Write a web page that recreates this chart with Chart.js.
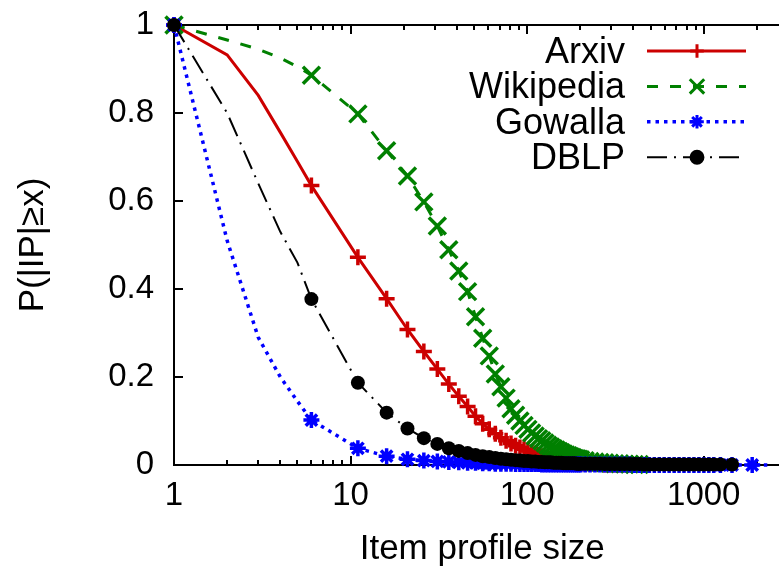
<!DOCTYPE html>
<html>
<head>
<meta charset="utf-8">
<script src="https://cdn.jsdelivr.net/npm/chart.js@4.4.1/dist/chart.umd.min.js"></script>
<style>
html, body { margin: 0; padding: 0; background: #fff; overflow: hidden; }
#wrap { width: 900px; height: 574px; }
</style>
</head>
<body>
<div id="wrap"><canvas id="ccdf" width="806" height="574"></canvas></div>
<script>
// profile sizes (x) shared by every series
const sizes = [1, 2, 3, 4, 5,
  6, 11, 16, 21, 26, 31, 36, 41, 46, 51,
  56, 61, 66, 71, 76, 81, 86, 91, 96, 101,
  106, 111, 116, 121, 126, 131, 136, 141, 146, 151,
  156, 161, 166, 171, 176, 181, 186, 191, 196, 201,
  213, 227, 242, 258, 275, 293, 313, 334, 356, 380,
  405, 432, 461, 492, 525, 560, 597, 637, 680, 725,
  773, 825, 880, 939, 1002, 1069, 1140, 1243, 1446, 1881,
  2400];

const arxiv = [1, 0.932, 0.84, 0.756, 0.69,
  0.635, 0.472, 0.378, 0.308, 0.258, 0.218, 0.184, 0.156, 0.133, 0.111,
  0.094, 0.081, 0.071, 0.062, 0.055, 0.049, 0.044, 0.04, 0.036, 0.032,
  0.029, 0.026, 0.023, 0.02, 0.017, 0.015, 0.013, 0.011, 0.01, 0.009,
  0.008, 0.007, 0.006, 0.006, 0.005, 0.005, 0.004, 0.004, 0.003, 0.003,
  0.003, 0.002, 0.002, 0.002, 0.001, 0.001, 0.001, 0.001, 0.001, 0.001];

const wikipedia = [1, 0.966, 0.945, 0.925, 0.905,
  0.886, 0.798, 0.714, 0.657, 0.598, 0.543, 0.489, 0.441, 0.394, 0.337,
  0.288, 0.248, 0.207, 0.178, 0.152, 0.128, 0.113, 0.1, 0.09, 0.081,
  0.073, 0.066, 0.06, 0.055, 0.05, 0.045, 0.041, 0.037, 0.034, 0.031,
  0.028, 0.025, 0.023, 0.021, 0.019, 0.017, 0.015, 0.014, 0.013, 0.012,
  0.01, 0.008, 0.007, 0.006, 0.005, 0.004, 0.003, 0.003, 0.002, 0.002, 0.001, 0.001];

const gowalla = [1, 0.51, 0.29, 0.2, 0.145,
  0.102, 0.038, 0.02, 0.013, 0.01, 0.008, 0.007, 0.006, 0.005, 0.005,
  0.004, 0.004, 0.003, 0.003, 0.003, 0.003, 0.002, 0.002, 0.002, 0.002,
  0.002, 0.002, 0.002, 0.001, 0.001, 0.001, 0.001, 0.001, 0.001, 0.001,
  0.001, 0.001, 0.001, 0.001, 0.001, 0.001, 0.001, 0.001, 0.001, 0.001,
  0.001, 0.001, 0.001, 0.001, 0.001, 0.001, 0.001, 0.001, 0.001, 0.001,
  0, 0, 0, 0, 0, 0, 0, 0, 0, 0,
  0, 0, 0, 0, 0, 0, 0, 0, 0, 0,
  0];

const dblp = [1, 0.8, 0.64, 0.53, 0.46,
  0.377, 0.187, 0.119, 0.083, 0.061, 0.048, 0.038, 0.032, 0.027, 0.023,
  0.02, 0.018, 0.016, 0.014, 0.013, 0.012, 0.011, 0.01, 0.009, 0.009,
  0.008, 0.008, 0.007, 0.007, 0.006, 0.006, 0.006, 0.005, 0.005, 0.005,
  0.005, 0.004, 0.004, 0.004, 0.004, 0.004, 0.004, 0.003, 0.003, 0.003,
  0.003, 0.003, 0.003, 0.003, 0.002, 0.002, 0.002, 0.002, 0.002, 0.002,
  0.002, 0.002, 0.001, 0.001, 0.001, 0.001, 0.001, 0.001, 0.001, 0.001,
  0.001, 0.001, 0.001, 0.001, 0.001, 0.001, 0.001, 0.001, 0.001];

const xTicks = [1, 10, 100, 1000];
const yTicks = [0, 0.2, 0.4, 0.6, 0.8, 1];

const FONT = '"Liberation Sans", Arial, Helvetica, sans-serif';
const PLOT_RIGHT = 792;   // plot frame runs past the visible window, like the cropped original

function toPoints(values) {
  return values.map((v, i) => ({x: sizes[i], y: v}));
}

// gnuplot-like: the first few steps have no symbol, neither has the last tail point
function markerRadius(r) {
  return c => {
    const x = c.raw ? c.raw.x : 1;
    return (x >= 2 && x <= 5) || x > 2000 ? 0 : r;
  };
}

const styles = [
  {label: 'Arxiv', data: arxiv, color: '#cc0000', width: 3, dash: [], point: 'cross', r: 8, pw: 3.5},
  {label: 'Wikipedia', data: wikipedia, color: '#008000', width: 3, dash: [11, 12], point: 'crossRot', r: 12, pw: 3.5},
  {label: 'Gowalla', data: gowalla, color: '#0000ff', width: 3.5, dash: [3.5, 5], point: 'star', r: 8, pw: 3.5},
  {label: 'DBLP', data: dblp, color: '#000000', width: 2, dash: [20, 7, 2, 7], point: 'circle', r: 7, pw: 0}
];

const frame = {
  id: 'frame',
  beforeDatasetsDraw(chart) {
    const {ctx, chartArea: a, scales: {x, y}} = chart;
    ctx.save();
    ctx.strokeStyle = '#000';
    ctx.lineWidth = 2;
    ctx.beginPath();
    ctx.rect(a.left, a.top, a.right - a.left, a.bottom - a.top);
    ctx.stroke();
    ctx.beginPath();
    yTicks.forEach(v => {
      const py = Math.round(y.getPixelForValue(v));
      ctx.moveTo(a.left, py); ctx.lineTo(a.left + 9, py);
      ctx.moveTo(a.right, py); ctx.lineTo(a.right - 9, py);
    });
    for (let e = 0; e < 4; e++) {
      for (let m = 1; m < 10; m++) {
        const v = m * Math.pow(10, e);
        if (v > x.max) break;
        const px = Math.round(x.getPixelForValue(v));
        const len = m === 1 ? 9 : 5;
        ctx.moveTo(px, a.bottom); ctx.lineTo(px, a.bottom - len);
        ctx.moveTo(px, a.top); ctx.lineTo(px, a.top + len);
      }
    }
    ctx.stroke();
    ctx.restore();
  }
};

const key = {
  id: 'key',
  afterDatasetsDraw(chart) {
    const ctx = chart.ctx;
    styles.forEach((s, i) => {
      const y = 51 + i * 35.4;
      ctx.save();
      ctx.font = '36px ' + FONT;
      ctx.fillStyle = '#000';
      ctx.textAlign = 'right';
      ctx.textBaseline = 'middle';
      ctx.fillText(s.label, 625, y + 2);
      ctx.strokeStyle = s.color;
      ctx.lineWidth = s.width;
      ctx.setLineDash(s.dash);
      ctx.beginPath();
      ctx.moveTo(647, y); ctx.lineTo(746, y);
      ctx.stroke();
      ctx.setLineDash([]);
      ctx.fillStyle = s.color;
      ctx.lineWidth = 3;
      Chart.helpers.drawPoint(ctx, {pointStyle: s.point, radius: s.r * 0.85, borderWidth: 3, rotation: 0}, 697, y);
      ctx.restore();
    });
  }
};

const chart = new Chart(document.getElementById('ccdf'), {
  type: 'line',
  data: {
    datasets: styles.map((s, i) => ({
      label: s.label,
      data: toPoints(s.data),
      borderColor: s.color,
      backgroundColor: s.color,
      borderWidth: s.width,
      borderDash: s.dash,
      pointStyle: s.point,
      pointRadius: markerRadius(s.r),
      pointBorderWidth: s.pw,
      pointBorderColor: s.color,
      pointBackgroundColor: s.color,
      tension: 0,
      fill: false,
      clip: false,
      order: 4 - i
    }))
  },
  options: {
    responsive: false,
    animation: false,
    devicePixelRatio: 1,
    layout: {padding: {top: 25, right: 2, left: 0, bottom: 0}},
    plugins: {legend: {display: false}, tooltip: {enabled: false}},
    scales: {
      x: {
        type: 'logarithmic',
        min: 1,
        max: 3100,
        grid: {display: false, drawTicks: false},
        border: {display: false},
        afterBuildTicks: sc => { sc.ticks = xTicks.map(v => ({value: v})); },
        afterFit: sc => { sc.height = 109; },
        ticks: {
          autoSkip: false, maxRotation: 0, padding: 11, color: '#000',
          font: {family: FONT, size: 33},
          callback: v => String(v)
        },
        title: {display: true, text: 'Item profile size', color: '#000', font: {family: FONT, size: 35}, padding: {top: 0, bottom: 4}}
      },
      y: {
        min: 0,
        max: 1,
        grid: {display: false, drawTicks: false},
        border: {display: false},
        afterBuildTicks: sc => { sc.ticks = yTicks.map(v => ({value: v})); },
        afterFit: sc => { sc.width = 174; },
        ticks: {
          padding: 20, color: '#000',
          font: {family: FONT, size: 33, lineHeight: 0.25},
          callback: v => String(v)
        },
        title: {display: true, text: 'P(|IP|≥x)', color: '#000', font: {family: FONT, size: 35}, padding: {top: 12, bottom: 0}}
      }
    }
  },
  plugins: [frame, key]
});

// keep the frame's right edge just outside the visible window
const dx = Math.round(PLOT_RIGHT - chart.chartArea.right);
if (dx !== 0) chart.resize(chart.width + dx, chart.height);
</script>
</body>
</html>
